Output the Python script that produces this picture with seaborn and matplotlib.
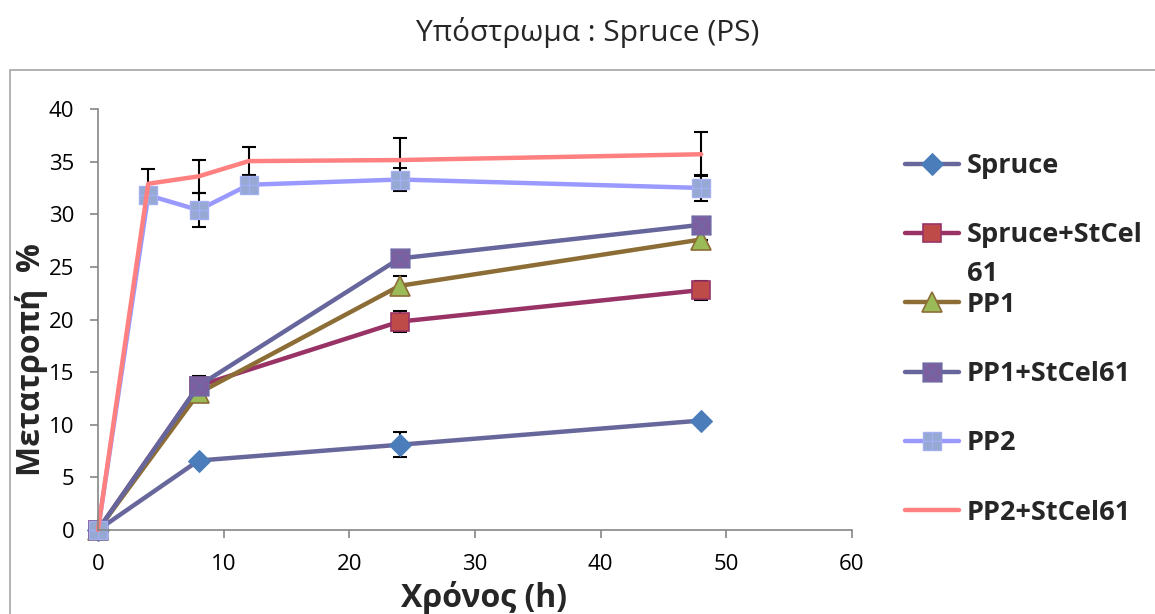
from __future__ import annotations

import matplotlib
matplotlib.use("Agg")
import matplotlib.pyplot as plt
import seaborn as sns
from matplotlib.patches import Rectangle
from matplotlib.path import Path

# --- data ------------------------------------------------------------------
TIME_A = [0, 8, 24, 48]
TIME_B = [0, 4, 8, 12, 24, 48]

SPRUCE = [0, 6.6, 8.1, 10.4]
SPRUCE_ERR = [0, 0, 1.2, 0]
SPRUCE_STCEL = [0, 13.7, 19.8, 22.8]
SPRUCE_STCEL_ERR = [0, 0.9, 1.0, 0.9]
PP1 = [0, 13.0, 23.2, 27.6]
PP1_ERR = [0, 0, 0.9, 0]
PP1_STCEL = [0, 13.7, 25.8, 29.0]
PP1_STCEL_ERR = [0, 0, 0, 0]
PP2 = [0, 31.8, 30.4, 32.8, 33.3, 32.5]
PP2_ERR = [0, 0, 1.6, 0, 1.05, 1.2]
PP2_STCEL = [0, 32.9, 33.6, 35.05, 35.15, 35.7]
PP2_STCEL_ERR = [0, 1.4, 1.6, 1.35, 2.05, 2.1]

LABELS = ["Spruce", "Spruce+StCel", "PP1", "PP1+StCel61", "PP2", "PP2+StCel61"]

TITLE = "Υπόστρωμα : Spruce (PS)"
XLABEL = "Χρόνος (h)"
YLABEL = "Μετατροπή  %"

FAMILY = ["Open Sans", "DejaVu Sans"]

# square with an X / a + inside, like the Excel markers
SQ_X = Path(
    [(-1, -1), (1, -1), (1, 1), (-1, 1), (-1, -1), (-1, -1), (1, 1), (-1, 1), (1, -1)],
    [Path.MOVETO, Path.LINETO, Path.LINETO, Path.LINETO, Path.CLOSEPOLY,
     Path.MOVETO, Path.LINETO, Path.MOVETO, Path.LINETO],
)
SQ_PLUS = Path(
    [(-1, -1), (1, -1), (1, 1), (-1, 1), (-1, -1), (0, -1), (0, 1), (-1, 0), (1, 0)],
    [Path.MOVETO, Path.LINETO, Path.LINETO, Path.LINETO, Path.CLOSEPOLY,
     Path.MOVETO, Path.LINETO, Path.MOVETO, Path.LINETO],
)


def main() -> None:
    sns.set_style("white")
    plt.rcParams["font.family"] = FAMILY

    fig = plt.figure(figsize=(11.55, 6.14), dpi=100)
    ax = fig.add_axes([98 / 1155, 1 - 530 / 614, 754 / 1155, 421 / 614])

    # outer chart frame (runs off the right and bottom edges)
    fig.patches.append(Rectangle((10 / 1155, -0.2), 1.2, 1.2 - 70 / 614,
                                 transform=fig.transFigure, fill=False,
                                 edgecolor="#a6a6a6", lw=1.2, zorder=0))

    series = [
        (TIME_A, SPRUCE, SPRUCE_ERR, "#67679c", dict(marker="D", markersize=11.5,
                                                       markerfacecolor="#4a7dba", markeredgecolor="#4a7dba")),
        (TIME_A, SPRUCE_STCEL, SPRUCE_STCEL_ERR, "#993366", dict(marker="s", markersize=13.5,
                                                                   markerfacecolor="#be4b48", markeredgecolor="#993366",
                                                                   markeredgewidth=1.2)),
        (TIME_A, PP1, PP1_ERR, "#8c6d35", dict(marker="^", markersize=14.5,
                                               markerfacecolor="#9bbb59", markeredgecolor="#8c6d35",
                                               markeredgewidth=1.2)),
        (TIME_A, PP1_STCEL, PP1_STCEL_ERR, "#66669c", dict(marker=SQ_X, markersize=13.5,
                                                           markerfacecolor="#7d5fa0", markeredgecolor="#6d68a6",
                                                           markeredgewidth=1.0)),
        (TIME_B, PP2, PP2_ERR, "#9999ff", dict(marker=SQ_PLUS, markersize=13.5,
                                               markerfacecolor="#95a9d3", markeredgecolor="#a4aef0",
                                               markeredgewidth=1.0)),
        (TIME_B, PP2_STCEL, PP2_STCEL_ERR, "#ff8080", dict(marker=None)),
    ]

    for (x, y, err, color, mk), label in zip(series, LABELS):
        ax.errorbar(x, y, yerr=err, fmt="none", ecolor="black", elinewidth=1.5,
                    capsize=5, capthick=1.5, zorder=1)
        sns.lineplot(x=x, y=y, ax=ax, color=color, lw=3.2, label=label,
                     clip_on=False, zorder=2, **mk)

    ax.set_xlim(0, 60)
    ax.set_ylim(0, 40)
    ax.set_xticks(range(0, 61, 10))
    ax.set_yticks(range(0, 41, 5))
    sns.despine(ax=ax)
    for side in ("left", "bottom"):
        ax.spines[side].set_color("#868686")
        ax.spines[side].set_linewidth(1.2)
    ax.tick_params(axis="both", direction="out", length=6, width=1.2, color="#868686",
                   labelsize=16, pad=11, left=True, bottom=True, labelcolor="black")

    ax.set_xlabel(XLABEL, fontsize=23, fontweight="bold")
    ax.xaxis.set_label_coords(0.512, -0.162)
    ax.set_ylabel(YLABEL, fontsize=23, fontweight="bold")
    ax.yaxis.set_label_coords(-0.088, 0.406)
    ax.yaxis.label.set_va("center")
    ax.xaxis.label.set_va("center")

    fig.text(588 / 1155, 1 - 33 / 614, TITLE, fontsize=21.5, ha="center", va="center")

    leg = ax.legend(loc="upper left", bbox_to_anchor=(905 / 1155, 1 - 153 / 614),
                    bbox_transform=fig.transFigure, frameon=False, borderpad=0,
                    borderaxespad=0, handlelength=2.0, handletextpad=0.28,
                    labelspacing=1.6, prop=dict(family=FAMILY, size=19.5, weight="bold"))
    # second line of the wrapped "Spruce+StCel61" label
    ax.annotate("61", xy=(0, 0), xycoords=leg.get_texts()[1], xytext=(0, -9),
                textcoords="offset points", ha="left", va="top",
                fontsize=19.5, fontweight="bold", zorder=10)

    fig.canvas.draw()
    fig.savefig("out.png", dpi=100, facecolor="white")


if __name__ == "__main__":
    main()
